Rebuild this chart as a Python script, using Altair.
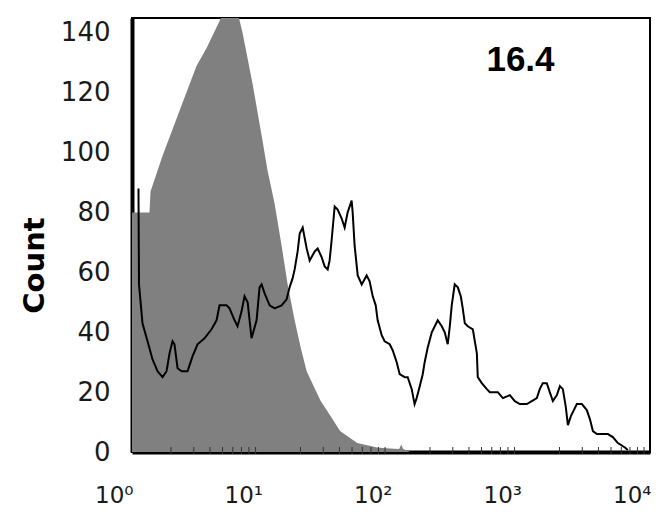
import altair as alt
import pandas as pd

# Isotype control (grey filled histogram): log10 intensity, count
gray_log = [0.0, 0.135, 0.143, 0.236, 0.367, 0.498, 0.576, 0.676, 0.715, 0.769, 0.815,
            0.854, 0.931, 1.008, 1.047, 1.101, 1.155, 1.202, 1.256, 1.302, 1.349, 1.403,
            1.457, 1.503, 1.607, 1.739, 1.893, 1.994, 2.063, 2.079, 2.094, 2.148]
gray_count = [80, 80, 87, 99, 114, 129, 135, 144, 148, 150, 147,
              140, 123, 104, 94, 83, 69, 56, 44, 35, 27, 22,
              17, 14, 7, 3, 1.5, 1.2, 1, 2.5, 1, 0]

# Stained sample (black line histogram)
line_log = [0.050, 0.054, 0.081, 0.120, 0.158, 0.197, 0.236, 0.267, 0.290, 0.313, 0.328,
            0.352, 0.383, 0.429, 0.468, 0.506, 0.560, 0.614, 0.653, 0.676, 0.730, 0.753,
            0.792, 0.815, 0.846, 0.869, 0.893, 0.923, 0.962, 0.985, 1.001, 1.024, 1.063,
            1.101, 1.155, 1.194, 1.217, 1.240, 1.256, 1.279, 1.295, 1.318, 1.349, 1.372,
            1.411, 1.434, 1.465, 1.488, 1.511, 1.526, 1.542, 1.565, 1.588, 1.619, 1.642,
            1.665, 1.696, 1.704, 1.719, 1.743, 1.774, 1.812, 1.835, 1.859, 1.882, 1.897,
            1.928, 1.951, 1.990, 2.013, 2.044, 2.067, 2.106, 2.129, 2.160, 2.182, 2.198,
            2.222, 2.245, 2.260, 2.284, 2.315, 2.338, 2.361, 2.392, 2.415, 2.438, 2.454,
            2.469, 2.492, 2.516, 2.539, 2.554, 2.570, 2.593, 2.632, 2.663, 2.670, 2.701,
            2.740, 2.763, 2.825, 2.864, 2.918, 2.956, 2.995, 3.049, 3.087, 3.126, 3.149,
            3.172, 3.203, 3.226, 3.250, 3.281, 3.304, 3.327, 3.350, 3.366, 3.389, 3.412,
            3.435, 3.474, 3.512, 3.536, 3.559, 3.590, 3.675, 3.713, 3.752, 3.806, 3.829]
line_count = [88, 56, 43, 37, 31, 27, 25, 27, 33, 37, 36,
              28, 27, 27, 32, 36, 38, 41, 44, 49, 49, 48,
              44, 42, 47, 52, 50, 38, 44, 55, 56, 53, 49,
              48, 49, 51, 55, 58, 61, 67, 73, 75, 68, 64,
              67, 68, 65, 62, 61, 64, 71, 82, 81, 78, 75,
              80, 84, 80, 69, 59, 56, 59, 57, 52, 49, 44,
              39, 37, 36, 34, 30, 26, 25, 25, 21, 16, 18,
              22, 26, 30, 35, 40, 42, 44, 42, 40, 36, 42,
              49, 56, 55, 52, 48, 43, 42, 41, 33, 25, 23,
              21, 20, 20, 18, 19, 17, 16, 16, 17, 18, 21,
              23, 23, 20, 17, 19, 22, 21, 15, 9, 12, 14,
              16, 16, 14, 11, 7, 6, 6, 5, 3, 1.5, 0.7]

major_ticks = [1, 10, 100, 1000, 10000]
minor_ticks = [k * 10 ** e for e in range(4) for k in range(2, 10)]
y_ticks = [0, 20, 40, 60, 80, 100, 120, 140]

annot_text = ["16.4"]
annot_x = [1000]
annot_y = [131]

gray_df = pd.DataFrame({"x": [10 ** v for v in gray_log], "y": gray_count})
line_df = pd.DataFrame({"x": [10 ** v for v in line_log], "y": line_count})
minor_df = pd.DataFrame({"x": minor_ticks})
annot_df = pd.DataFrame({"x": annot_x, "y": annot_y, "t": annot_text})

W, H = 518, 434
xscale = alt.Scale(type="log", domain=[1, 10000], nice=False)
yscale = alt.Scale(domain=[0, 145], nice=False)

label_expr = ("datum.value == 1 ? '10⁰' : datum.value == 10 ? '10¹' : "
              "datum.value == 100 ? '10²' : datum.value == 1000 ? '10³' : '10⁴'")

xaxis = alt.Axis(values=major_ticks, labelExpr=label_expr, ticks=False, tickSize=0,
                 grid=False, domainWidth=4, domainColor="black", labelFont="DejaVu Sans",
                 labelFontSize=23, labelColor="#1a1a1a", labelPadding=32,
                 labelAlign="right", labelOffset=1, labelFlush=False, labelOverlap=False,
                 title=None)
yaxis = alt.Axis(values=y_ticks, ticks=False, tickSize=0, grid=False, domainWidth=4,
                 domainColor="black", labelFont="DejaVu Sans", labelFontSize=26,
                 labelColor="#1a1a1a", labelPadding=22, labelFlush=False,
                 labelOverlap=False, title="Count", titleFont="DejaVu Sans",
                 titleFontSize=29, titleFontWeight="bold", titleColor="black",
                 titleX=-98, titleY=247, titleAngle=270, titleAlign="center",
                 titleBaseline="middle")


def X(field):
    return alt.X(field, scale=xscale, axis=xaxis)


def Y(field):
    return alt.Y(field, scale=yscale, axis=yaxis)


area = alt.Chart(gray_df).mark_area(color="#808080", interpolate="linear", clip=True).encode(
    x=X("x:Q"), y=Y("y:Q"),
)
line = alt.Chart(line_df).mark_line(color="black", strokeWidth=2, clip=True).encode(
    x=X("x:Q"), y=Y("y:Q"),
)
minor = alt.Chart(minor_df).mark_rule(color="#333333", strokeWidth=1).encode(
    x=X("x:Q"),
    y=alt.value(H - 5),
    y2=alt.value(H + 2),
)
annot = alt.Chart(annot_df).mark_text(font="Liberation Sans", fontSize=35, fontWeight="bold",
                                      color="black", align="center", baseline="middle").encode(
    x=X("x:Q"), y=Y("y:Q"),
    text="t:N",
)

chart = alt.layer(area, line, minor, annot).properties(
    width=W, height=H,
    autosize=alt.AutoSizeParams(type="none"),
    padding={"left": 124, "top": 10, "right": 2, "bottom": 58},
    background="white",
).configure_view(stroke="black", strokeWidth=2)

chart.save("out.html", embed_options={"renderer": "svg", "actions": False})
